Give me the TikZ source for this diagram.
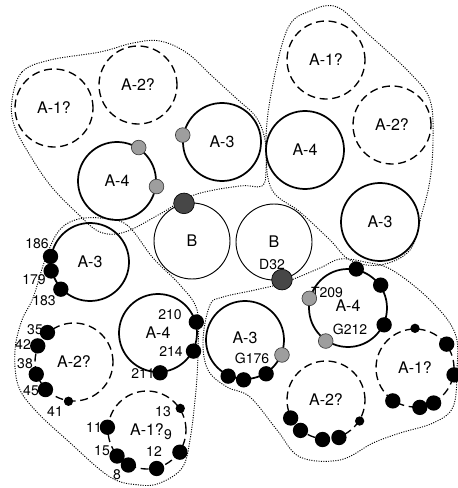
\documentclass[tikz,border=0pt]{standalone}
\usepackage{fontspec}
\setmainfont{TeX Gyre Heros}
\tikzset{every picture/.style={line width=0.75pt}}
\tikzset{
  ring/.style={circle, draw, line width=1.3pt, minimum size=58.5pt, inner sep=0pt, font=\fontsize{12}{14}\selectfont},
  dashring/.style={ring, line width=1pt, dash pattern=on 6pt off 3.5pt},
  thinring/.style={ring, line width=0.7pt, minimum size=57pt},
  hull/.style={line width=0.7pt, dash pattern=on 0.8pt off 1pt},
  bigdot/.style={circle, fill=black, inner sep=0pt, minimum size=11.5pt},
  smalldot/.style={circle, fill=black, inner sep=0pt, minimum size=7pt},
  greydot/.style={circle, fill=black!38, draw=black!75, line width=0.5pt, inner sep=0pt, minimum size=11pt},
  darkdot/.style={circle, fill=black!72, draw=black, line width=0.5pt, inner sep=0pt, minimum size=15.5pt},
  numlab/.style={inner sep=0pt, font=\fontsize{10.5}{12}\selectfont}
}
\begin{document}
\begin{tikzpicture}[x=0.75pt,y=0.75pt,yscale=-1,xscale=1]
\useasboundingbox (0,0) rectangle (457,488);

%Dotted hull: top left group
\draw[hull] plot[smooth cycle, tension=0.6] coordinates {(12,100) (22,72) (50,60) (100,52) (133,43) (160,41) (187,53) (213,77) (237,99) (256,117) (265,140) (266,170) (262,186) (240,186) (194,195) (160,214) (125,232) (100,232) (77,213) (50,185) (28,152) (14,125)};
%Dotted hull: top right group
\draw[hull] plot[smooth cycle, tension=0.6] coordinates {(310,11) (337,7) (367,33) (410,73) (430,100) (433,140) (430,180) (422,213) (410,250) (380,265) (350,260) (330,240) (300,212) (272,190) (266,150) (270,100) (287,30)};
%Dotted hull: bottom left group
\draw[hull] plot[smooth cycle, tension=0.6] coordinates {(100,218) (127,225) (153,258) (180,285) (197,310) (198,350) (196,390) (190,440) (182,468) (160,483) (140,485) (110,477) (67,440) (35,410) (18,385) (15,350) (22,320) (33,298) (45,260) (58,232) (75,220)};
%Dotted hull: bottom right group
\draw[hull] plot[smooth cycle, tension=0.6] coordinates {(210,305) (223,297) (255,290) (283,283) (320,268) (340,259) (365,262) (392,270) (430,300) (455,333) (457,370) (453,407) (433,423) (400,433) (373,443) (340,460) (300,457) (277,430) (250,397) (227,387) (208,370) (203,340)};

%Circles: top left group
\node[dashring] (a1tl) at (54,108) {A-1?};
\node[dashring] (a2tl) at (138,85) {A-2?};
\node[ring] (a4tl) at (117,181) {A-4};
\node[ring] (a3tm) at (222,142) {A-3};
%Circles: top right group
\node[dashring] (a1tr) at (326,60) {A-1?};
\node[dashring] (a2tr) at (392,125) {A-2?};
\node[ring] (a4tr) at (305,150) {A-4};
\node[ring] (a3tr) at (380,222) {A-3};
%Circles: middle
\node[thinring] (bl) at (192,241) {B};
\node[thinring] (br) at (274,242) {B};
%Circles: bottom left group
\node[ring] (a3bl) at (90,262) {A-3};
\node[dashring] (a2bl) at (74,362) {A-2?};
\node[ring] (a4bl) at (158,333) {A-4};
\node[dashring] (a1bl) at (147,430) {A-1?};
%Circles: bottom right group
\node[ring, text depth=4pt] (a3br) at (245,340) {A-3};
\node[ring, text depth=4pt] (a4br) at (348,308) {A-4};
\node[dashring] (a2br) at (326,400) {A-2?};
\node[dashring] (a1br) at (415,368) {A-1?};

% Text Node
\node[numlab] (t186) at (37,244) {186};
\node[numlab] (t179) at (34,280) {179};
\node[numlab] (t183) at (44,301) {183};
\node[numlab] (t35) at (35,330) {35};
\node[numlab] (t42) at (23,345) {42};
\node[numlab] (t38) at (25,364) {38};
\node[numlab] (t45) at (31,391) {45};
\node[numlab] (t41) at (55,412) {41};
\node[numlab] (t210) at (170,315) {210};
\node[numlab] (t214) at (171,352) {214};
\node[numlab] (t211) at (143,374) {211};
\node[numlab] (t11) at (94,428) {11};
\node[numlab] (t13) at (163,412) {13};
\node[numlab] (t9) at (168,435) {9};
\node[numlab] (t12) at (154,452) {12};
\node[numlab] (t15) at (102,451) {15};
\node[numlab] (t8) at (117,475) {8};
\node[numlab] (tD32) at (272,265) {D32};
\node[numlab] (tT209) at (327,293) {T209};
\node[numlab] (tG212) at (350,329) {G212};
\node[numlab] (tG176) at (252,358) {G176};

%Dots: top left group
\node[greydot] (g1) at (a4tl.57) {};
\node[greydot] (g2) at (a4tl.-8) {};
\node[greydot] (g3) at (a3tm.170) {};
\node[darkdot] (k1) at (bl.102) {};
\node[darkdot] (kD32) at (br.-78) {};
%Dots: bottom left group
\node[bigdot] (d186) at (a3bl.172) {};
\node[bigdot] (d179) at (a3bl.193) {};
\node[bigdot] (d183) at (a3bl.223) {};
\node[bigdot] (d35) at (a2bl.132) {};
\node[bigdot] (d42) at (a2bl.156) {};
\node[bigdot] (d38) at (a2bl.198) {};
\node[bigdot] (d45) at (a2bl.224) {};
\node[smalldot] (d41) at (a2bl.262) {};
\node[bigdot] (d210) at (a4bl.16) {};
\node[bigdot] (d214) at (a4bl.-27) {};
\node[bigdot] (d211) at (a4bl.-87) {};
\node[bigdot] (d11) at (a1bl.176) {};
\node[smalldot] (d13) at (a1bl.33) {};
\node[bigdot] (d9) at (a1bl.-34) {};
\node[bigdot] (d12) at (a1bl.-76) {};
\node[bigdot] (d15) at (a1bl.221) {};
\node[bigdot] (d8) at (a1bl.242) {};
%Dots: bottom right group
\node[greydot] (gG176) at (a3br.-22) {};
\node[bigdot] (e1) at (a3br.245) {};
\node[bigdot] (e2) at (a3br.268) {};
\node[bigdot] (e3) at (a3br.302) {};
\node[greydot] (gT209) at (a4br.166) {};
\node[greydot] (gG212) at (a4br.236) {};
\node[bigdot] (e4) at (a4br.78) {};
\node[bigdot] (e5) at (a4br.35) {};
\node[bigdot] (e6) at (a4br.-25) {};
\node[bigdot] (e7) at (a2br.207) {};
\node[bigdot] (e8) at (a2br.230) {};
\node[bigdot] (e9) at (a2br.265) {};
\node[bigdot] (e10) at (a2br.289) {};
\node[smalldot] (e11) at (a2br.-32) {};
\node[smalldot] (e12) at (a1br.90) {};
\node[bigdot] (e13) at (a1br.37) {};
\node[bigdot] (e14) at (a1br.-10) {};
\node[bigdot] (e15) at (a1br.-62) {};
\node[bigdot] (e16) at (a1br.-83) {};
\node[bigdot] (e17) at (a1br.236) {};

\end{tikzpicture}
\end{document}
